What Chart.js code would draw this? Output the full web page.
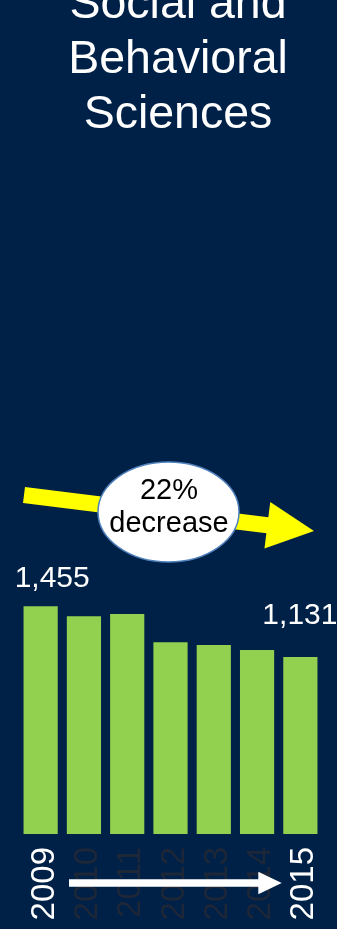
<!DOCTYPE html>
<html>
<head>
<meta charset="utf-8">
<script src="https://cdn.jsdelivr.net/npm/chart.js@4/dist/chart.umd.min.js"></script>
<style>
  html, body { margin: 0; padding: 0; background: #002147; overflow: hidden; }
  canvas { display: block; }
</style>
</head>
<body>
<canvas id="c" width="337" height="929"></canvas>
<script>
// ---- data ----
const years = ['2009', '2010', '2011', '2012', '2013', '2014', '2015'];
const degrees = [1455, 1392, 1405, 1226, 1207, 1175, 1131];
const titleLines = ['Social and', 'Behavioral', 'Sciences'];
const changeLines = ['22%', 'decrease'];
const labelledIndexes = [0, 6];

const FONT = "'Liberation Sans', Arial, sans-serif";
const BG = '#002147';
const BAR = '#92D050';
const DIM = '#1e2738';

const deco = {
  id: 'deco',
  beforeDraw(chart) {
    const ctx = chart.ctx;
    ctx.save();
    ctx.fillStyle = BG;
    ctx.fillRect(0, 0, chart.width, chart.height);
    ctx.restore();
  },
  afterDraw(chart) {
    const ctx = chart.ctx;
    const meta = chart.getDatasetMeta(0);
    ctx.save();

    // title
    ctx.fillStyle = '#ffffff';
    ctx.font = '46.5px ' + FONT;
    ctx.textAlign = 'center';
    ctx.textBaseline = 'alphabetic';
    titleLines.forEach((t, i) => ctx.fillText(t, 178, 17.5 + i * 55.3));

    // value labels
    ctx.font = '30px ' + FONT;
    ctx.textAlign = 'left';
    const offs = { 0: [-26, -19], 6: [-38, -33] };
    labelledIndexes.forEach(i => {
      const b = meta.data[i];
      const o = offs[i];
      ctx.fillText(degrees[i].toLocaleString('en-US'), b.x + o[0], b.y + o[1]);
    });

    // yellow arrow
    const sx = 24, sy = 495, tx = 314, ty = 531;
    const L = Math.hypot(tx - sx, ty - sy);
    const ang = Math.atan2(ty - sy, tx - sx);
    ctx.save();
    ctx.translate(sx, sy);
    ctx.rotate(ang);
    ctx.beginPath();
    ctx.moveTo(0, -8);
    ctx.lineTo(L - 47, -8);
    ctx.lineTo(L - 47, -23.5);
    ctx.lineTo(L, 0);
    ctx.lineTo(L - 47, 23.5);
    ctx.lineTo(L - 47, 8);
    ctx.lineTo(0, 8);
    ctx.closePath();
    ctx.fillStyle = '#ffff00';
    ctx.fill();
    ctx.restore();

    // ellipse callout
    ctx.beginPath();
    ctx.ellipse(168.5, 512, 70.5, 50, 0, 0, Math.PI * 2);
    ctx.fillStyle = '#ffffff';
    ctx.fill();
    ctx.lineWidth = 1.5;
    ctx.strokeStyle = '#4f81bd';
    ctx.stroke();
    ctx.fillStyle = '#000000';
    ctx.font = '29px ' + FONT;
    ctx.textAlign = 'center';
    ctx.fillText(changeLines[0], 169, 499);
    ctx.fillText(changeLines[1], 169, 532);

    // white time arrow
    ctx.beginPath();
    ctx.moveTo(69, 879.3);
    ctx.lineTo(258.3, 879.3);
    ctx.lineTo(258.3, 871.7);
    ctx.lineTo(281.7, 883);
    ctx.lineTo(258.3, 894.3);
    ctx.lineTo(258.3, 886.7);
    ctx.lineTo(69, 886.7);
    ctx.closePath();
    ctx.fillStyle = '#ffffff';
    ctx.fill();

    ctx.restore();
  }
};

new Chart(document.getElementById('c'), {
  type: 'bar',
  data: {
    labels: years,
    datasets: [{
      data: degrees,
      backgroundColor: BAR,
      borderWidth: 0,
      barPercentage: 0.79,
      categoryPercentage: 1.0
    }]
  },
  options: {
    responsive: false,
    devicePixelRatio: 1,
    animation: false,
    layout: { padding: { top: 521, left: 19, right: 15, bottom: 0 } },
    plugins: { legend: { display: false }, tooltip: { enabled: false }, title: { display: false } },
    scales: {
      y: { display: false, min: 0, max: 2000 },
      x: {
        grid: { display: false, drawTicks: false },
        border: { display: false },
        ticks: {
          autoSkip: false,
          minRotation: 90,
          maxRotation: 90,
          padding: 13,
          labelOffset: 4,
          font: { size: 33, family: FONT },
          color: (c) => (c.index === 0 || c.index === years.length - 1) ? '#ffffff' : DIM
        },
        afterFit: (s) => { s.height = 95; s.paddingLeft = 0; s.paddingRight = 0; }
      }
    }
  },
  plugins: [deco]
});
</script>
</body>
</html>
